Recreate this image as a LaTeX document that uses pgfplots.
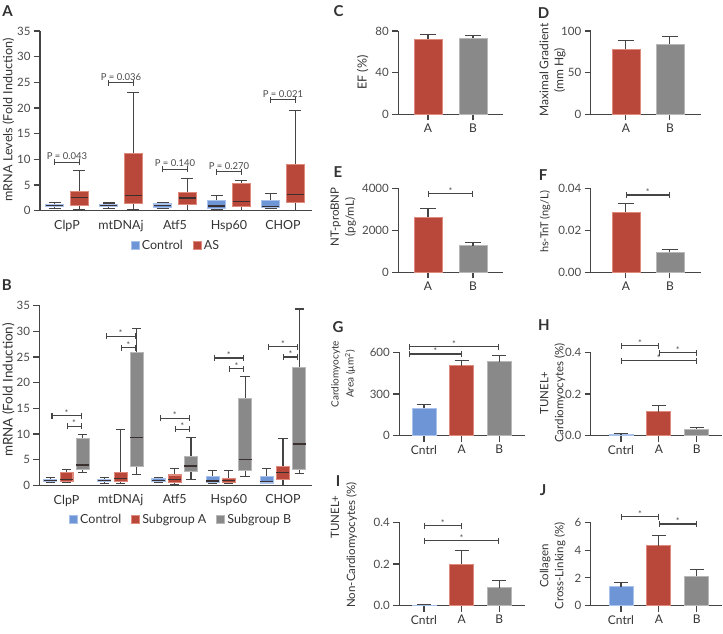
\documentclass[border=0pt]{standalone}
\usepackage{pgfplots}
\pgfplotsset{compat=1.18}
\usepgfplotslibrary{statistics}
\usetikzlibrary{arrows.meta}
\usepackage{fontspec}
\setmainfont{Lato}

\definecolor{cblue}{HTML}{6E96D6}
\definecolor{cblueL}{HTML}{A9C2EC}
\definecolor{cred}{HTML}{B9473A}
\definecolor{credL}{HTML}{E08A7E}
\definecolor{cgray}{HTML}{898989}
\definecolor{cgrayL}{HTML}{B8B8B8}
\definecolor{axgray}{HTML}{454545}
\definecolor{medc}{HTML}{3A3030}
\definecolor{tickc}{HTML}{4A4A4A}
\definecolor{catc}{HTML}{333333}

\newcommand\tickf{\fontsize{11.5}{13}\selectfont}
\newcommand\catf{\fontsize{12.5}{15}\selectfont}
\newcommand\catsf{\fontsize{12}{14}\selectfont}
\newcommand\labf{\fontsize{11.5}{15}\selectfont}
\newcommand\legf{\fontsize{12.5}{14}\selectfont}
\newcommand\letf{\bfseries\fontsize{15}{16}\selectfont}
\newcommand\pf{\fontsize{9.5}{10}\selectfont}
\newcommand\starf{\fontsize{9}{10}\selectfont}

\pgfplotsset{
  base/.style={scale only axis, anchor=south west, axis lines*=left,
    axis line style={draw=axgray, line width=1.1pt},
    tick align=outside, major tick length=6pt,
    tick style={draw=axgray, line width=1.1pt},
    ymin=0, clip=false,
    /pgf/number format/assume math mode=true,
    tick label style={font=\tickf, text=tickc}},
  boxax/.style={base, xmin=-0.5, xmax=4.537, ymax=35, ytick={0,5,...,35},
    xtick={0,1,2,3,4}, xticklabels={ClpP,mtDNAj,Atf5,Hsp60,CHOP},
    xtick style={draw=none}, xticklabel style={font=\catf, text=catc},
    boxplot/draw direction=y,
    legend style={draw=none, fill=none, font=\legf, text=catc, legend columns=-1,
      /tikz/every even column/.append style={column sep=8pt}},
    legend image code/.code={\draw[##1] (0pt,-4pt) rectangle (8pt,4pt);}},
  barax/.style={base, xticklabel style={font=\catsf, text=catc}},
  cbox/.style={draw=axgray, boxplot/every box/.style={fill=cblue, draw=cblueL, line width=1.1pt},
    boxplot/every whisker/.style={draw=axgray, line width=1.1pt},
    boxplot/every median/.style={draw=medc, line width=1.3pt}},
  rbox/.style={draw=axgray, boxplot/every box/.style={fill=cred, draw=credL, line width=1.1pt},
    boxplot/every whisker/.style={draw=axgray, line width=1.1pt},
    boxplot/every median/.style={draw=medc, line width=1.3pt}},
  gbox/.style={draw=axgray, boxplot/every box/.style={fill=cgray, draw=cgrayL, line width=1.1pt},
    boxplot/every whisker/.style={draw=axgray, line width=1.1pt},
    boxplot/every median/.style={draw=medc, line width=1.3pt}},
  rbar/.style={ybar, bar shift=0pt, fill=cred, draw=credL, line width=0.8pt},
  gbar/.style={ybar, bar shift=0pt, fill=cgray, draw=cgrayL, line width=0.8pt},
  bbar/.style={ybar, bar shift=0pt, fill=cblue, draw=cblueL, line width=0.8pt},
  errs/.style={error bars/.cd, y dir=plus, y explicit,
    error bar style={draw=axgray, line width=1.1pt},
    error mark options={rotate=90, draw=axgray, line width=1.1pt, mark size=#1}},
}
\tikzset{brk/.style={draw=axgray, line width=1.1pt, {Bar[width=6pt]}-{Bar[width=6pt]}}}

\newcommand\bx[7]{\addplot[#1, forget plot, boxplot prepared={draw position=#2, lower whisker=#3, lower quartile=#4, median=#5, upper quartile=#6, upper whisker=#7}] coordinates {};}
\newcommand\sig[4]{\draw[brk] (axis cs:#1,#3) -- node[midway, anchor=base, yshift=-0.5pt, font=\starf, text=tickc, inner sep=0pt] {#4} (axis cs:#2,#3);}
\newcommand\pv[4]{\draw[brk] (axis cs:#1,#3) -- node[midway, anchor=south, yshift=2pt, font=\pf, text=tickc, inner sep=0pt] {#4} (axis cs:#2,#3);}

\begin{document}
\begin{tikzpicture}
\path[use as bounding box] (0pt,0pt) rectangle (723pt,-634pt);

% ---------- Panel A ----------
\begin{axis}[boxax, at={(40pt,-210.7pt)}, width=272pt, height=179.7pt,
  boxplot/box extend=0.33, boxplot/whisker extend=0.22,
  legend style={at={(0.5,-0.196)}, anchor=center}]
\addlegendimage{fill=cblue, draw=cblueL, line width=1pt}\addlegendentry{Control}
\addlegendimage{fill=cred, draw=credL, line width=1pt}\addlegendentry{AS}
\bx{cbox}{-0.23}{0.35}{0.75}{1.0}{1.15}{1.55}
\bx{rbox}{0.23}{0.3}{1.1}{2.6}{3.7}{7.9}
\bx{cbox}{0.77}{0.4}{0.75}{0.95}{1.15}{1.5}
\bx{rbox}{1.23}{0.3}{1.4}{2.9}{11.2}{23.0}
\bx{cbox}{1.77}{0.5}{0.65}{1.0}{1.3}{1.6}
\bx{rbox}{2.23}{0.1}{1.25}{2.5}{3.5}{6.3}
\bx{cbox}{2.77}{0.3}{0.45}{0.9}{1.9}{2.9}
\bx{rbox}{3.23}{0.1}{0.8}{1.75}{5.35}{5.8}
\bx{cbox}{3.77}{0.35}{0.6}{0.8}{1.9}{3.4}
\bx{rbox}{4.23}{0.1}{1.65}{3.2}{9.05}{19.5}
\pv{-0.235}{0.235}{9.45}{P = 0.043}
\pv{0.765}{1.235}{24.9}{P = 0.036}
\pv{1.765}{2.235}{8.1}{P = 0.140}
\pv{2.765}{3.235}{7.6}{P = 0.270}
\pv{3.765}{4.235}{21.6}{P = 0.021}
\end{axis}

% ---------- Panel B ----------
\begin{axis}[boxax, at={(39.5pt,-485.3pt)}, width=272.5pt, height=179.6pt,
  boxplot/box extend=0.24, boxplot/whisker extend=0.17,
  legend style={at={(0.52,-0.193)}, anchor=center}]
\addlegendimage{fill=cblue, draw=cblueL, line width=1pt}\addlegendentry{Control}
\addlegendimage{fill=cred, draw=credL, line width=1pt}\addlegendentry{Subgroup A}
\addlegendimage{fill=cgray, draw=cgrayL, line width=1pt}\addlegendentry{Subgroup B}
\bx{cbox}{-0.3}{0.5}{0.8}{1.0}{1.1}{1.5}
\bx{rbox}{0}{0.5}{0.7}{1.15}{2.45}{3.1}
\bx{gbox}{0.3}{2.5}{3.0}{3.95}{9.15}{9.9}
\bx{cbox}{0.7}{0.4}{0.7}{1.0}{1.2}{1.6}
\bx{rbox}{1}{0.4}{0.7}{1.35}{2.45}{10.9}
\bx{gbox}{1.3}{2.15}{3.75}{9.35}{25.85}{30.6}
\bx{cbox}{1.7}{0.5}{0.7}{1.0}{1.3}{1.5}
\bx{rbox}{2}{0.2}{0.6}{1.15}{2.0}{3.2}
\bx{gbox}{2.3}{1.15}{2.65}{3.75}{5.6}{9.35}
\bx{cbox}{2.7}{0.4}{0.6}{0.85}{1.7}{2.85}
\bx{rbox}{3}{0.4}{0.5}{0.9}{1.25}{2.85}
\bx{gbox}{3.3}{1.8}{2.8}{5.05}{16.95}{21.2}
\bx{cbox}{3.7}{0.4}{0.45}{0.75}{1.7}{3.3}
\bx{rbox}{4}{0.0}{1.15}{2.5}{3.65}{9.15}
\bx{gbox}{4.3}{2.35}{3.0}{8.05}{22.9}{34.35}
\sig{-0.28}{0.28}{13.6}{*}\sig{0}{0.28}{11.5}{*}
\sig{0.72}{1.28}{29.0}{*}\sig{1}{1.28}{26.8}{*}
\sig{1.72}{2.28}{13.05}{*}\sig{2}{2.28}{10.9}{*}
\sig{2.72}{3.28}{24.8}{*}\sig{3}{3.28}{22.7}{*}
\sig{3.72}{4.28}{27.0}{*}\sig{4}{4.28}{25.0}{*}
\end{axis}

% ---------- Panel C ----------
\begin{axis}[barax, at={(398.3pt,-114.3pt)}, width=105pt, height=83.3pt,
  xmin=-0.66, xmax=1.673, ymax=80, ytick={0,40,80}, xtick={0,1}, xticklabels={A,B}, bar width=28pt]
\addplot[rbar, errs=8pt] coordinates {(0,72.3) +- (0,4.2)};
\addplot[gbar, errs=8pt] coordinates {(1,73.0) +- (0,2.5)};
\end{axis}

% ---------- Panel D ----------
\begin{axis}[barax, at={(590.7pt,-114.3pt)}, width=110pt, height=83.3pt,
  xmin=-0.80, xmax=1.70, ymax=100, ytick={0,50,100}, xtick={0,1}, xticklabels={A,B}, bar width=28pt]
\addplot[rbar, errs=8pt] coordinates {(0,78) +- (0,10.4)};
\addplot[gbar, errs=8pt] coordinates {(1,84) +- (0,9.2)};
\end{axis}

% ---------- Panel E ----------
\begin{axis}[barax, at={(398.3pt,-272.3pt)}, width=105pt, height=84pt,
  xmin=-0.66, xmax=1.673, ymax=4000, ytick={0,2000,4000}, xtick={0,1}, xticklabels={A,B}, bar width=28pt,
  yticklabel style={/pgf/number format/1000 sep={}}]
\addplot[rbar, errs=8pt] coordinates {(0,2619) +- (0,410)};
\addplot[gbar, errs=8pt] coordinates {(1,1267) +- (0,162)};
\sig{0}{1}{3743}{*}
\end{axis}

% ---------- Panel F ----------
\begin{axis}[barax, at={(590.7pt,-272.3pt)}, width=110pt, height=84pt,
  xmin=-0.80, xmax=1.70, ymax=0.04, ytick={0,0.02,0.04}, xtick={0,1}, xticklabels={A,B}, bar width=28pt,
  scaled y ticks=false, yticklabel style={/pgf/number format/.cd, fixed, fixed zerofill, precision=2}]
\addplot[rbar, errs=8pt] coordinates {(0,0.0286) +- (0,0.0043)};
\addplot[gbar, errs=8pt] coordinates {(1,0.0095) +- (0,0.0014)};
\sig{0}{1}{0.0368}{*}
\end{axis}

% ---------- Panel G ----------
\begin{axis}[barax, at={(399.3pt,-435.7pt)}, width=125.7pt, height=83.4pt,
  xmin=-0.656, xmax=2.683, ymax=600, ytick={0,300,600}, xtick={0,1,2}, xticklabels={Cntrl,A,B}, bar width=24pt]
\addplot[bbar, errs=7pt] coordinates {(0,197) +- (0,26)};
\addplot[rbar, errs=7pt] coordinates {(1,504) +- (0,36)};
\addplot[gbar, errs=7pt] coordinates {(2,531) +- (0,45)};
\sig{-0.4}{2}{641}{*}
\sig{-0.4}{1}{588}{*}
\end{axis}

% ---------- Panel H ----------
\begin{axis}[barax, at={(590.7pt,-435.7pt)}, width=131.6pt, height=83.4pt,
  xmin=-0.80, xmax=2.676, ymax=0.4, ytick={0,0.2,0.4}, xtick={0,1,2}, xticklabels={Cntrl,A,B}, bar width=24pt,
  yticklabel style={/pgf/number format/.cd, fixed, fixed zerofill, precision=1}]
\addplot[bbar, errs=7pt] coordinates {(0,0.0067) +- (0,0.0033)};
\addplot[rbar, errs=7pt] coordinates {(1,0.115) +- (0,0.028)};
\addplot[gbar, errs=7pt] coordinates {(2,0.032) +- (0,0.008)};
\sig{0}{1}{0.4307}{*}
\sig{1}{2}{0.397}{*}
\sig{0}{2}{0.360}{*}
\end{axis}

% ---------- Panel I ----------
\begin{axis}[barax, at={(399.3pt,-605.7pt)}, width=125.7pt, height=83.4pt,
  xmin=-0.656, xmax=2.683, ymax=0.4, ytick={0,0.2,0.4}, xtick={0,1,2}, xticklabels={Cntrl,A,B}, bar width=24pt,
  yticklabel style={/pgf/number format/.cd, fixed, fixed zerofill, precision=1}]
\addplot[bbar, errs=7pt] coordinates {(0,0.003) +- (0,0.004)};
\addplot[rbar, errs=7pt] coordinates {(1,0.200) +- (0,0.063)};
\addplot[gbar, errs=7pt] coordinates {(2,0.0864) +- (0,0.034)};
\sig{0}{1}{0.383}{*}
\sig{0}{2}{0.3107}{*}
\end{axis}

% ---------- Panel J ----------
\begin{axis}[barax, at={(590.7pt,-605.7pt)}, width=131.6pt, height=83.4pt,
  xmin=-0.80, xmax=2.676, ymax=6, ytick={0,2,4,6}, xtick={0,1,2}, xticklabels={Cntrl,A,B}, bar width=24pt]
\addplot[bbar, errs=7pt] coordinates {(0,1.37) +- (0,0.29)};
\addplot[rbar, errs=7pt] coordinates {(1,4.32) +- (0,0.70)};
\addplot[gbar, errs=7pt] coordinates {(2,2.14) +- (0,0.48)};
\sig{0}{1}{6.41}{*}
\sig{1}{2}{5.88}{*}
\end{axis}

% ---------- Labels ----------
\begin{scope}[every node/.style={text=catc}]
\node[font=\letf] at (7.5pt,-11pt) {A};
\node[font=\letf] at (6.7pt,-285pt) {B};
\node[font=\letf] at (338.7pt,-11.5pt) {C};
\node[font=\letf] at (543.5pt,-13pt) {D};
\node[font=\letf] at (338pt,-172.5pt) {E};
\node[font=\letf] at (543pt,-175pt) {F};
\node[font=\letf] at (338pt,-326.7pt) {G};
\node[font=\letf] at (544pt,-325pt) {H};
\node[font=\letf] at (338pt,-481pt) {I};
\node[font=\letf] at (543pt,-490pt) {J};

\node[font=\fontsize{12.6}{15}\selectfont, rotate=90] at (8.3pt,-120pt) {mRNA Levels (Fold Induction)};
\node[font=\fontsize{13.4}{15}\selectfont, rotate=90] at (8.3pt,-390pt) {mRNA (Fold Induction)};
\node[font=\fontsize{12.5}{15}\selectfont, rotate=90] at (362.7pt,-72.7pt) {EF (\%)};
\node[font=\fontsize{12}{15}\selectfont, rotate=90, align=center] at (552.5pt,-70pt) {Maximal Gradient\\(mm Hg)};
\node[font=\labf, rotate=90, align=center] at (343.3pt,-217pt) {NT-proBNP\\(pg/mL)};
\node[font=\fontsize{11}{15}\selectfont, rotate=90] at (545pt,-222pt) {hs-TnT (ng/L)};
\node[font=\fontsize{10}{15}\selectfont, rotate=90, align=center] at (343.3pt,-374pt) {Cardiomyocyte\\Area (µm\textsuperscript{2})};
\node[font=\labf, rotate=90, align=center] at (552.8pt,-393pt) {TUNEL+\\Cardiomyocytes (\%)};
\node[font=\labf, rotate=90] at (335pt,-517pt) {TUNEL+};
\node[font=\labf, rotate=90] at (351.7pt,-545pt) {Non-Cardiomyocytes (\%)};
\node[font=\labf, rotate=90, align=center] at (552.8pt,-566pt) {Collagen\\Cross-Linking (\%)};
\end{scope}
\end{tikzpicture}
\end{document}
